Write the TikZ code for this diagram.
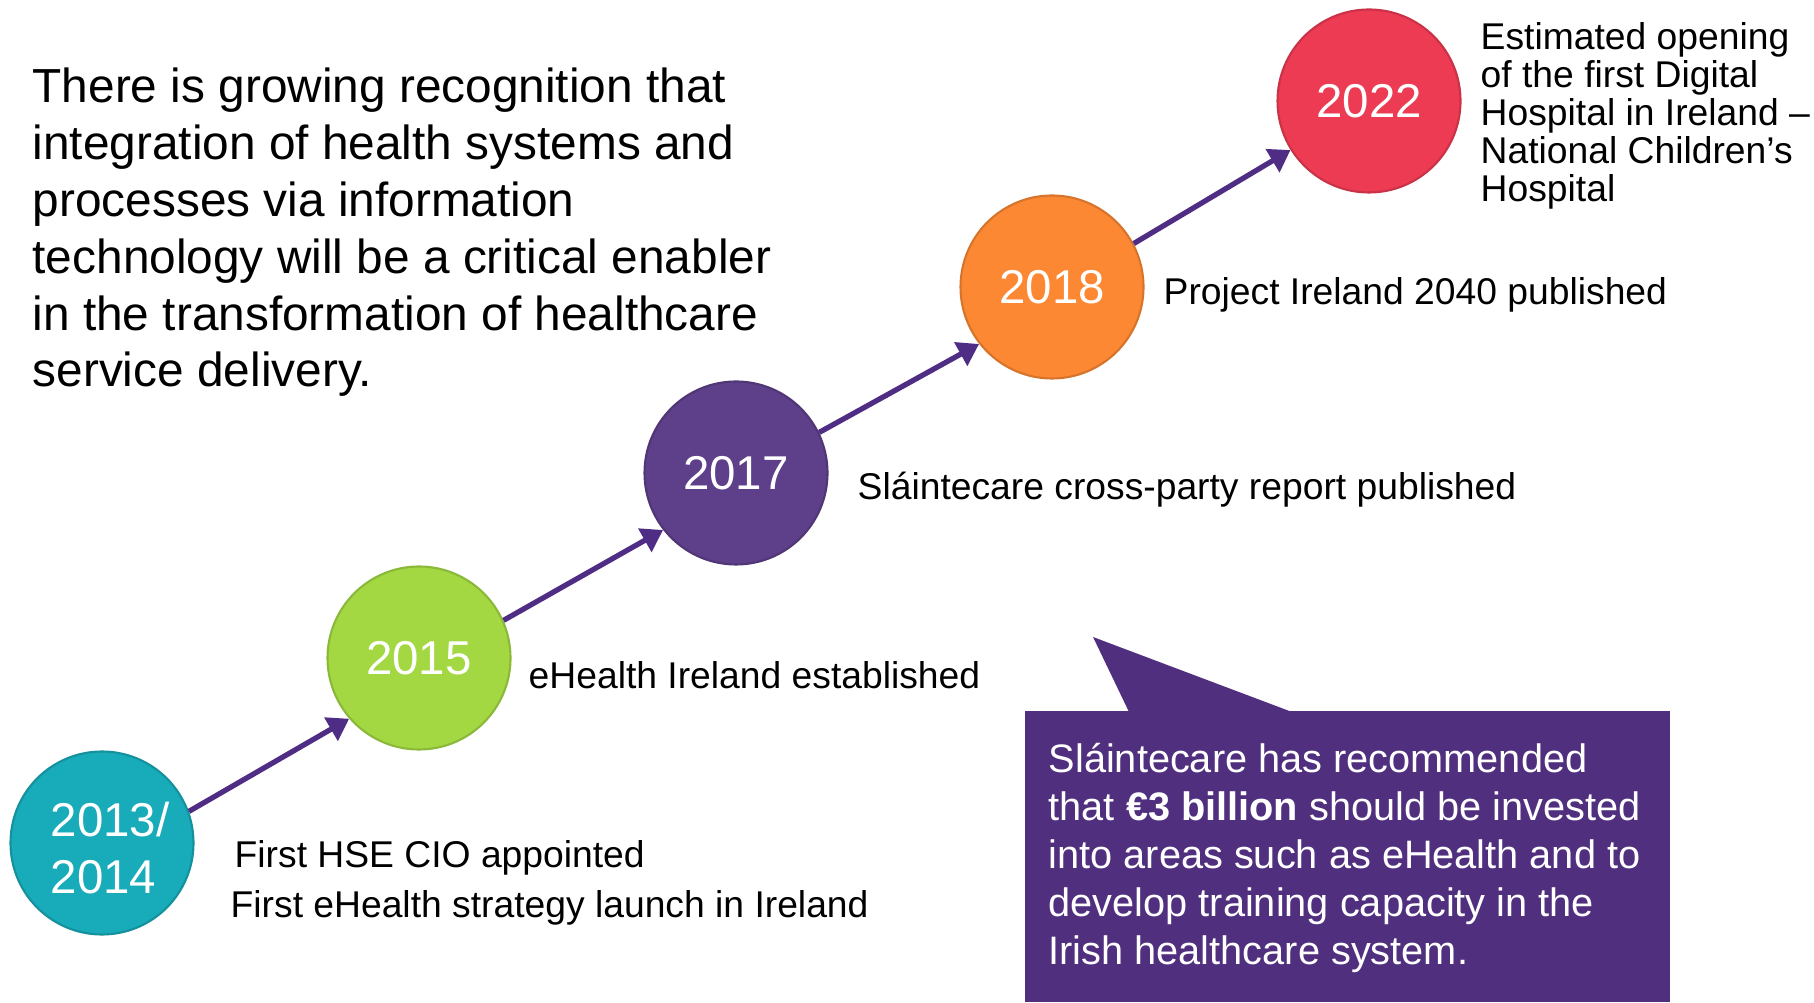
\documentclass[tikz,border=0pt]{standalone}
\usepackage{fontspec}
\setmainfont{Liberation Sans}
\usetikzlibrary{arrows.meta}
\definecolor{tealc}{HTML}{18ABB9}
\definecolor{limec}{HTML}{A4D843}
\definecolor{violetc}{HTML}{5E3F8A}
\definecolor{orangec}{HTML}{FD8833}
\definecolor{redc}{HTML}{EC3B53}
\definecolor{calloutc}{HTML}{512F7F}
\definecolor{arrowc}{HTML}{4F2D84}
\begin{document}
\begin{tikzpicture}[x=1cm,y=1cm,
  year/.style={circle,minimum size=1.83cm,inner sep=0pt,line width=0.6pt,text=white,font=\fontsize{13.5}{16.3}\selectfont,align=left},
  event/.style={anchor=base west,inner sep=0pt,font=\fontsize{10.6}{13}\selectfont},
  arr/.style={draw=arrowc,line width=1.5pt,-{Triangle[length=2.1mm,width=2.6mm]}}]
\useasboundingbox (0,0) rectangle (18.14,10.02);
% intro text (base = last line)
\node[anchor=base west,inner sep=0pt,align=left,font=\fontsize{13.6}{16.2}\selectfont] (intro) at (0.32,6.15)
  {There is growing recognition that\\integration of health systems and\\processes via information\\technology will be a critical enabler\\in the transformation of healthcare\\service delivery.};
% years
\node[year,fill=tealc,draw=tealc!85!black] (y1) at (1.02,1.59) {};
\node[year,draw=none,fill=none] (t1) at ([xshift=0.8mm,yshift=-0.5mm]y1.center) {2013/\\2014};
\node[year,fill=limec,draw=limec!85!black] (y2) at (4.19,3.44) {2015};
\node[year,fill=violetc,draw=violetc!85!black] (y3) at (7.36,5.29) {2017};
\node[year,fill=orangec,draw=orangec!85!black] (y4) at (10.52,7.15) {2018};
\node[year,fill=redc,draw=redc!85!black] (y5) at (13.69,9.01) {2022};
\foreach \a/\b/\p/\q in {y1/y2/20/221,y2/y3/24/218,y3/y4/26/218,y4/y5/28/212}
  \draw[arr] (\a.\p) -- (\b.\q);
% events
\node[event] (e1) at (2.34,1.35) {First HSE CIO appointed};
\node[event] (e1b) at (2.30,0.85) {First eHealth strategy launch in Ireland};
\node[event] (e2) at (5.28,3.13) {eHealth Ireland established};
\node[event] (e3) at (8.57,5.02) {Sláintecare cross-party report published};
\node[event] (e4) at (11.63,6.97) {Project Ireland 2040 published};
\node[event,align=left,font=\fontsize{10.6}{10.85}\selectfont] (e5) at (14.80,8.00)
  {Estimated opening\\of the first Digital\\Hospital in Ireland –\\National Children’s\\Hospital};
% callout
\fill[calloutc] (10.25,0) rectangle (16.70,2.91);
\fill[calloutc] (11.29,2.90) -- (10.93,3.65) -- (12.92,2.90) -- cycle;
\node[anchor=base west,inner sep=0pt,align=left,text=white,font=\fontsize{11.3}{13.6}\selectfont] (note) at (10.48,0.38)
  {Sláintecare has recommended\\that \textbf{€3 billion} should be invested\\into areas such as eHealth and to\\develop training capacity in the\\Irish healthcare system.};
\end{tikzpicture}
\end{document}
